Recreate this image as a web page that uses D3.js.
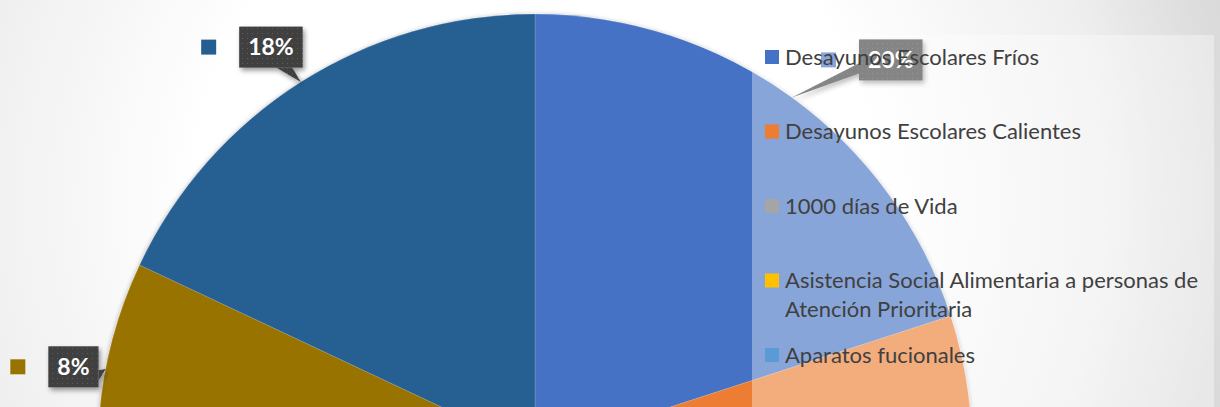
<!DOCTYPE html>
<meta charset="utf-8">
<style>
  body { margin: 0; overflow: hidden; background: #fff; }
  svg { display: block; }
</style>
<div id="chart"></div>
<script src="https://cdn.jsdelivr.net/npm/d3@7"></script>
<script>

// series, in the order Excel draws them (clockwise from 12 o'clock)
var categories = [
    "Desayunos Escolares Fríos",
    "Desayunos Escolares Calientes",
    "1000 días de Vida",
    "Asistencia Social Alimentaria a personas de Atención Prioritaria",
    "Aparatos fucionales",
    "Programa 6",
    "Programa 7",
    "Programa 8",
    "Programa 9",
    "Programa 10",
    "Programa 11"
];
var values = [20, 12, 6, 15, 3, 5, 4, 6, 3, 8, 18];

// office palette
var colors = ["#4472C4", "#ED7D31", "#A5A5A5", "#FFC000", "#5B9BD5", "#70AD47",
              "#264478", "#9E480E", "#636363", "#997300", "#255E91"];

var width = 1220,
    height = 407;

var cx = 535, cy = 451, radius = 437;

// labels that were dragged by hand in the original
var labelNudge = { 0: [76, -6], 9: [6, 5], 10: [-9, -2] };

var svg = d3.select("#chart").append("svg")
    .attr("width", width)
    .attr("height", height);

var defs = svg.append("defs");

var bg = defs.append("radialGradient")
    .attr("id", "bg")
    .attr("gradientUnits", "userSpaceOnUse")
    .attr("cx", 535).attr("cy", 200).attr("r", 720);
bg.append("stop").attr("offset", 0).attr("stop-color", "#ffffff");
bg.append("stop").attr("offset", 0.47).attr("stop-color", "#ffffff");
bg.append("stop").attr("offset", 0.79).attr("stop-color", "#efefef");
bg.append("stop").attr("offset", 0.97).attr("stop-color", "#dbdbdb");
bg.append("stop").attr("offset", 1).attr("stop-color", "#dadada");

var dots = defs.append("pattern")
    .attr("id", "dots")
    .attr("patternUnits", "userSpaceOnUse")
    .attr("width", 5).attr("height", 5);
dots.append("rect").attr("width", 5).attr("height", 5).attr("fill", "#404040");
dots.append("rect").attr("x", 2).attr("y", 2).attr("width", 1).attr("height", 1).attr("fill", "#5c5c5c");

var pieShadow = defs.append("filter").attr("id", "pieShadow")
    .attr("x", "-10%").attr("y", "-10%").attr("width", "120%").attr("height", "120%");
pieShadow.append("feDropShadow")
    .attr("dx", 0).attr("dy", 1).attr("stdDeviation", 2.5)
    .attr("flood-color", "#000").attr("flood-opacity", 0.35);

var boxShadow = defs.append("filter").attr("id", "boxShadow")
    .attr("x", "-30%").attr("y", "-30%").attr("width", "160%").attr("height", "160%");
boxShadow.append("feDropShadow")
    .attr("dx", 2).attr("dy", 3).attr("stdDeviation", 2.5)
    .attr("flood-color", "#000").attr("flood-opacity", 0.4);

svg.append("rect")
    .attr("width", width)
    .attr("height", height)
    .attr("fill", "url(#bg)");

var total = d3.sum(values);
var pct = d3.format(".0%");

var pie = d3.pie().sort(null).value(function(d) { return d; });
var arcs = pie(values);

var arc = d3.arc().innerRadius(0).outerRadius(radius);

var pieG = svg.append("g")
    .attr("transform", "translate(" + cx + "," + cy + ")")
    .attr("filter", "url(#pieShadow)");

pieG.selectAll("path")
    .data(arcs)
    .enter().append("path")
    .attr("d", arc)
    .attr("fill", function(d, i) { return colors[i]; })
    .attr("stroke", "#ffffff")
    .attr("stroke-opacity", 0.25)
    .attr("stroke-width", 0.6);

// ---- data labels (callouts) ----
var labelG = svg.append("g")
    .attr("transform", "translate(" + cx + "," + cy + ")");

var labelFont = "bold 23px Lato, 'Open Sans', sans-serif";

arcs.forEach(function(d, i) {
    var mid = (d.startAngle + d.endAngle) / 2;
    var tx = Math.sin(mid) * radius,
        ty = -Math.cos(mid) * radius;
    var lr = radius + 39;
    var bx = Math.sin(mid) * lr,
        by = -Math.cos(mid) * lr;
    if (labelNudge[i]) { bx += labelNudge[i][0]; by += labelNudge[i][1]; }

    // the chart is cut at the bottom: skip callouts that fall below it
    if (cy + by - 20.5 > height) return;

    var g = labelG.append("g");
    var t = g.append("text")
        .attr("x", bx).attr("y", by)
        .attr("dy", "0.36em")
        .attr("text-anchor", "middle")
        .style("font", labelFont)
        .attr("fill", "#ffffff")
        .text(pct(d.value / total));
    var tw = t.node().getComputedTextLength();
    var w = tw + 18, h = 41;
    var x0 = bx - w / 2, y0 = by - h / 2;

    // wedge on the side that faces the slice
    var dx = tx - bx, dy = ty - by, p1, p2;
    if (Math.abs(dx) / (w / 2) > Math.abs(dy) / (h / 2)) {
        var ex = dx > 0 ? x0 + w : x0;
        var f = dy > 0 ? [7, 10] : [2, 5];
        p1 = [ex, y0 + h * f[0] / 12]; p2 = [ex, y0 + h * f[1] / 12];
    } else {
        var ey = dy > 0 ? y0 + h : y0;
        var f2 = dx > 0 ? [7, 10] : [2, 5];
        p1 = [x0 + w * f2[0] / 12, ey]; p2 = [x0 + w * f2[1] / 12, ey];
    }

    var sh = g.insert("g", "text").attr("filter", "url(#boxShadow)");
    sh.append("rect")
        .attr("x", x0).attr("y", y0)
        .attr("width", w).attr("height", h)
        .attr("fill", "url(#dots)");
    sh.append("path")
        .attr("d", "M" + p1 + "L" + [tx, ty] + "L" + p2 + "Z")
        .attr("fill", "url(#dots)");

    // legend key shown with the label
    g.append("rect")
        .attr("x", x0 - 38).attr("y", by - 7.5)
        .attr("width", 15).attr("height", 15)
        .attr("fill", colors[i]);
});

// ---- legend ----
var legX = 752, legY = 35, legW = 462;

svg.append("rect")
    .attr("x", legX).attr("y", legY)
    .attr("width", legW).attr("height", height)
    .attr("fill", "#ffffff")
    .attr("fill-opacity", 0.36);

var legG = svg.append("g");
var legFont = "22px Lato, 'Open Sans', sans-serif";
var maxW = 424, lineH = 29, pitch = 74.5;

function wrap(str) {
    var probe = legG.append("text").style("font", legFont);
    var words = str.split(" "), lines = [], cur = "";
    words.forEach(function(wd) {
        var test = cur ? cur + " " + wd : wd;
        probe.text(test);
        if (probe.node().getComputedTextLength() > maxW && cur) {
            lines.push(cur);
            cur = wd;
        } else {
            cur = test;
        }
    });
    lines.push(cur);
    probe.remove();
    return lines;
}

categories.forEach(function(name, i) {
    var y = 57 + i * pitch;
    if (y - 10 > height) return;   // rest of the legend is cut off
    var item = legG.append("g");
    item.append("rect")
        .attr("x", 765).attr("y", y - 7)
        .attr("width", 14).attr("height", 14)
        .attr("fill", colors[i]);
    var text = item.append("text")
        .attr("x", 785).attr("y", y)
        .attr("dy", "0.35em")
        .style("font", legFont)
        .attr("fill", "#404040");
    wrap(name).forEach(function(line, k) {
        text.append("tspan")
            .attr("x", 785)
            .attr("y", y + k * lineH)
            .attr("dy", "0.35em")
            .text(line);
    });
});

</script>
